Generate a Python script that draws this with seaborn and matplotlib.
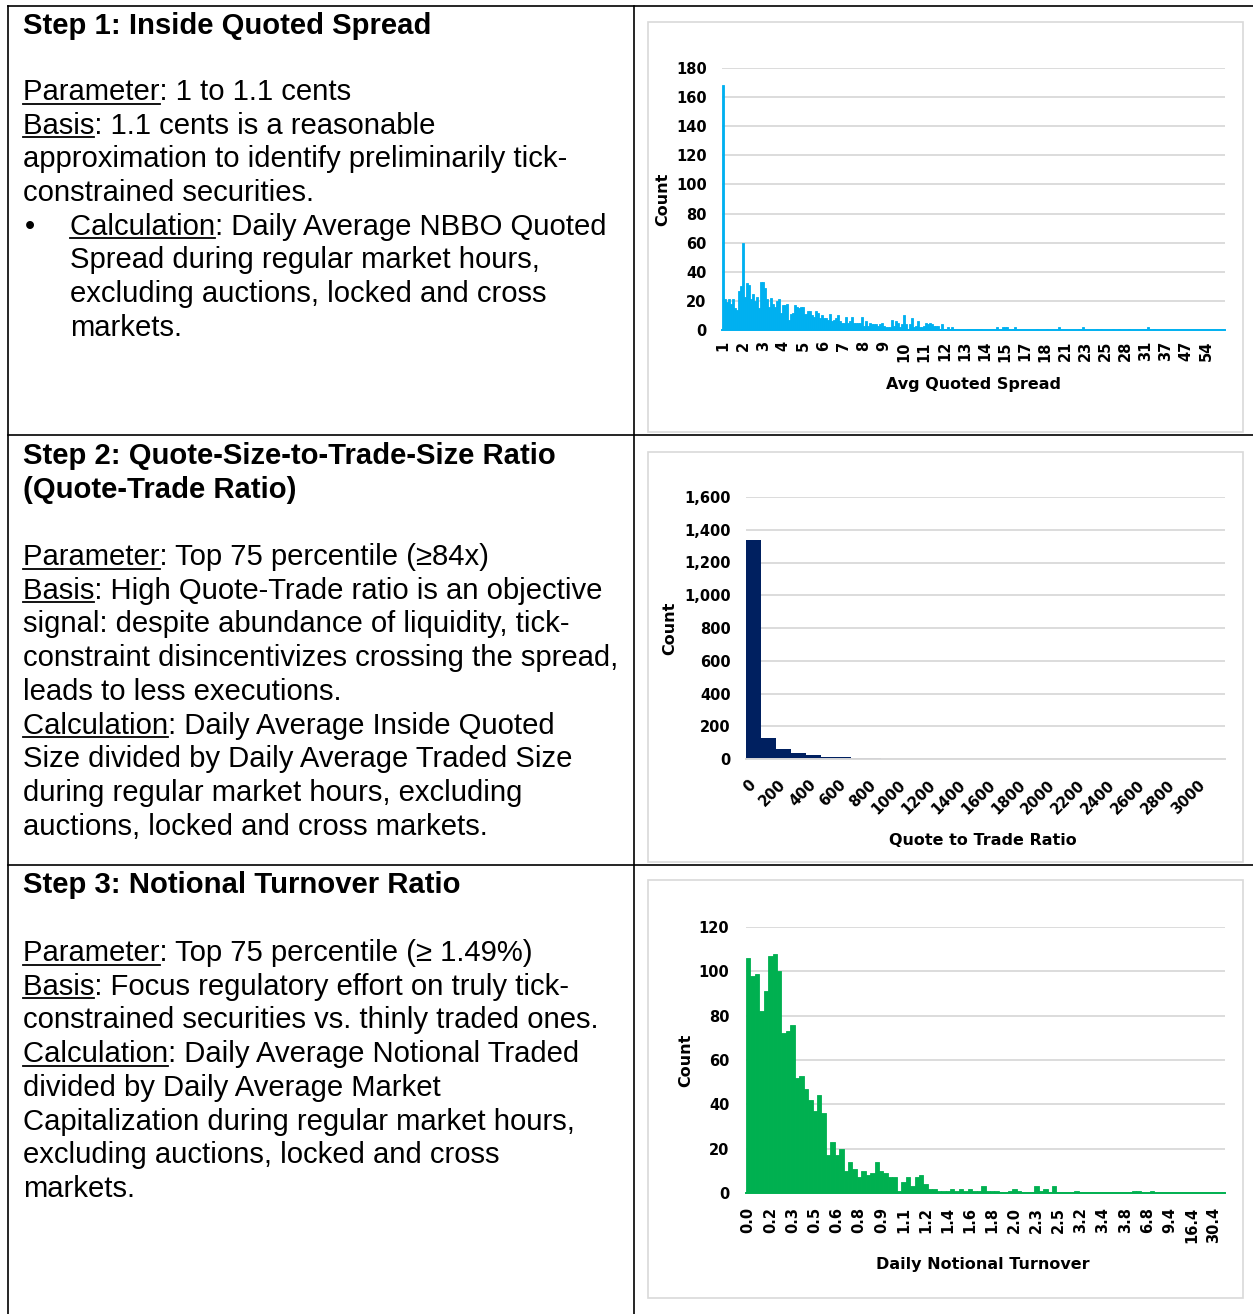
import numpy as np
import matplotlib
matplotlib.use('Agg')
import matplotlib.pyplot as plt
from matplotlib.patches import Rectangle
from matplotlib.lines import Line2D
from matplotlib.ticker import FuncFormatter
import seaborn as sns

W, H = 1253, 1314

# ---------------- data ----------------
# Step 1: histogram of average quoted spread (categorical bins, 10 bins per label)
spread_counts = [
    168, 21, 19, 21, 18, 21, 15, 14, 27, 30,
    60, 23, 32, 31, 21, 25, 20, 23, 15, 33,
    33, 29, 21, 16, 22, 18, 16, 20, 21, 12,
    17, 17, 18, 7, 11, 12, 17, 16, 15, 16,
    16, 11, 13, 13, 10, 9, 13, 12, 8, 10,
    8, 8, 7, 11, 6, 7, 8, 10, 6, 5,
    5, 9, 5, 6, 9, 5, 5, 5, 5, 9,
    3, 6, 3, 5, 4, 4, 4, 3, 4, 5,
    3, 2, 2, 2, 7, 3, 6, 5, 2, 4,
    10, 4, 1, 4, 8, 2, 3, 6, 2, 2,
    3, 5, 4, 5, 4, 3, 3, 3, 1, 4,
    1, 1, 2, 1, 2, 1, 1, 1, 0, 0,
    0, 0, 1, 1, 1, 1, 1, 1, 1, 0,
    0, 0, 0, 1, 1, 0, 2, 0, 0, 2,
    2, 2, 0, 0, 1, 2, 0, 0, 0, 0,
    0, 0, 0, 0, 0, 0, 1, 0, 0, 0,
    0, 1, 0, 0, 0, 0, 0, 2, 0, 0,
    0, 0, 0, 0, 0, 0, 0, 1, 1, 2,
    0, 0, 0, 0, 0, 0, 1, 0, 1, 0,
    0, 0, 0, 0, 1, 0, 0, 1, 0, 0,
    0, 0, 1, 0, 0, 0, 0, 0, 1, 1,
    1, 2, 0, 0, 1, 0, 0, 0, 0, 0,
    0, 0, 0, 0, 0, 0, 0, 0, 0, 0,
    0, 0, 0, 0, 0, 0, 0, 0, 0, 0,
    0, 0, 0, 0, 0, 0, 0, 0, 0, 0,
]
spread_tick_labels = ['1', '2', '3', '4', '5', '6', '7', '8', '9', '10', '11', '12', '13',
                      '14', '15', '17', '18', '21', '23', '25', '28', '31', '37', '47', '54']
spread_label_every = 10

# Step 2: histogram of quote-to-trade ratio (bins of 100)
qt_counts = [1340, 126, 61, 35, 24, 14, 12, 6, 6, 2, 1, 1, 1, 0, 1, 0,
             0, 0, 0, 0, 0, 0, 0, 0, 0, 0, 0, 0, 0, 0, 1, 0]
qt_bin_width = 100
qt_tick_labels = ['0', '200', '400', '600', '800', '1000', '1200', '1400', '1600',
                  '1800', '2000', '2200', '2400', '2600', '2800', '3000']

# Step 3: histogram of daily notional turnover (categorical bins, 5 bins per label)
turnover_counts = [
    106, 98, 99, 82, 91, 107, 108, 100, 72, 73,
    76, 52, 53, 47, 42, 37, 44, 36, 17, 23,
    17, 20, 10, 14, 11, 7, 10, 8, 9, 14,
    10, 9, 7, 7, 1, 5, 7, 3, 7, 8,
    4, 2, 2, 1, 1, 1, 2, 1, 2, 1,
    2, 1, 1, 3, 1, 1, 1, 0, 0, 1,
    2, 1, 0, 0, 0, 3, 1, 2, 0, 3,
    0, 0, 0, 0, 1, 0, 0, 0, 0, 0,
    0, 0, 0, 0, 0, 0, 0, 1, 1, 0,
    0, 1, 0, 0, 0, 0, 0, 0, 0, 0,
    0, 0, 0, 0, 0, 0, 0, 0,
]
turnover_tick_labels = ['0.0', '0.2', '0.3', '0.5', '0.6', '0.8', '0.9', '1.1', '1.2', '1.4', '1.6',
                        '1.8', '2.0', '2.3', '2.5', '3.2', '3.4', '3.8', '6.8', '9.4', '16.4', '30.4']
turnover_label_every = 5

# left column text: (underlined word, rest of line, indent)
step_titles = [
    ['Step 1: Inside Quoted Spread'],
    ['Step 2: Quote-Size-to-Trade-Size Ratio', '(Quote-Trade Ratio)'],
    ['Step 3: Notional Turnover Ratio'],
]
step_bodies = [
    [('Parameter', ': 1 to 1.1 cents', 0),
     ('Basis', ': 1.1 cents is a reasonable', 0),
     ('', 'approximation to identify preliminarily tick-', 0),
     ('', 'constrained securities.', 0),
     ('Calculation', ': Daily Average NBBO Quoted', 1),
     ('', 'Spread during regular market hours,', 1),
     ('', 'excluding auctions, locked and cross', 1),
     ('', 'markets.', 1)],
    [('Parameter', ': Top 75 percentile (≥84x)', 0),
     ('Basis', ': High Quote-Trade ratio is an objective', 0),
     ('', 'signal: despite abundance of liquidity, tick-', 0),
     ('', 'constraint disincentivizes crossing the spread,', 0),
     ('', 'leads to less executions.', 0),
     ('Calculation', ': Daily Average Inside Quoted', 0),
     ('', 'Size divided by Daily Average Traded Size', 0),
     ('', 'during regular market hours, excluding', 0),
     ('', 'auctions, locked and cross markets.', 0)],
    [('Parameter', ': Top 75 percentile (≥ 1.49%)', 0),
     ('Basis', ': Focus regulatory effort on truly tick-', 0),
     ('', 'constrained securities vs. thinly traded ones.', 0),
     ('Calculation', ': Daily Average Notional Traded', 0),
     ('', 'divided by Daily Average Market', 0),
     ('', 'Capitalization during regular market hours,', 0),
     ('', 'excluding auctions, locked and cross', 0),
     ('', 'markets.', 0)],
]

# ---------------- figure ----------------
plt.rcParams['font.family'] = ['DejaVu Sans']
plt.rcParams['font.weight'] = 'bold'
fig = plt.figure(figsize=(W / 100, H / 100), dpi=100)
fig.patch.set_facecolor('white')

GRID = '#d9d9d9'
TEXT_FONT = ['Liberation Sans', 'DejaVu Sans']
TEXT_SIZE = 21.1


def fx(x):
    return x / W


def fy(y):
    return 1 - y / H


def px_axes(x0, y0, x1, y1):
    return fig.add_axes([fx(x0), fy(y1), (x1 - x0) / W, (y1 - y0) / H])


def style(ax, base_color=GRID):
    for s in ['left', 'right', 'top']:
        ax.spines[s].set_visible(False)
    ax.spines['bottom'].set_color(base_color)
    ax.spines['bottom'].set_linewidth(1.4)
    ax.yaxis.grid(True, color=GRID, linewidth=1.3)
    ax.xaxis.grid(False)
    ax.set_axisbelow(True)
    ax.patch.set_alpha(0)
    ax.tick_params(length=0, labelsize=10.5, colors='black')


def place_labels(ax, x0, y0, x1, y1, ylab_x, xlab_x, xlab_y, xlabel):
    w, h = x1 - x0, y1 - y0
    ax.set_xlabel(xlabel, fontsize=11.5, fontweight='bold')
    ax.set_ylabel('Count', fontsize=11.5, fontweight='bold')
    ax.xaxis.set_label_coords((xlab_x - x0) / w, (y1 - xlab_y) / h)
    ax.xaxis.label.set_va('center')
    ax.yaxis.set_label_coords((ylab_x - x0) / w, 0.5)
    ax.yaxis.label.set_va('center')


# chart boxes
for (bx0, by0, bx1, by1) in [(648, 22, 1243, 432), (648, 452, 1243, 862), (648, 880, 1243, 1298)]:
    fig.patches.append(Rectangle((fx(bx0), fy(by1)), (bx1 - bx0) / W, (by1 - by0) / H,
                                 transform=fig.transFigure, facecolor='none',
                                 edgecolor=GRID, linewidth=1.2, zorder=-1))

# ---- chart 1 ----
c1 = (722, 68, 1225, 330)
ax1 = px_axes(*c1)
sns.histplot(x=np.arange(len(spread_counts)), weights=spread_counts, discrete=True, shrink=1,
             color='#00B0F0', alpha=1, edgecolor='#00B0F0', linewidth=0.6, ax=ax1)
style(ax1, '#00B0F0')
ax1.set_xlim(-0.5, len(spread_counts) - 0.5)
ax1.set_ylim(0, 180)
ax1.set_yticks(range(0, 181, 20))
ax1.set_xticks(np.arange(len(spread_tick_labels)) * spread_label_every)
ax1.set_xticklabels(spread_tick_labels, rotation=90)
ax1.tick_params(axis='y', pad=11)
ax1.tick_params(axis='x', pad=8)
place_labels(ax1, *c1, ylab_x=663, xlab_x=973, xlab_y=384, xlabel='Avg Quoted Spread')

# ---- chart 2 ----
c2 = (746, 497, 1225, 759)
ax2 = px_axes(*c2)
qt_lo = 0
qt_hi = len(qt_counts) * qt_bin_width
qt_centers = qt_lo + qt_bin_width * (np.arange(len(qt_counts)) + 0.5)
sns.histplot(x=qt_centers, weights=qt_counts, binwidth=qt_bin_width, binrange=(qt_lo, qt_hi),
             color='#002060', alpha=1, linewidth=0, ax=ax2)
style(ax2)
ax2.set_xlim(qt_lo, qt_hi)
ax2.set_ylim(0, 1600)
ax2.set_yticks(range(0, 1601, 200))
ax2.yaxis.set_major_formatter(FuncFormatter(lambda v, p: f'{int(v):,}'))
ax2.set_xticks(np.arange(len(qt_tick_labels)) * 2 * qt_bin_width + qt_bin_width / 2)
ax2.set_xticklabels(qt_tick_labels, rotation=45, ha='right', va='center', rotation_mode='anchor')
ax2.tick_params(axis='y', pad=11)
ax2.tick_params(axis='x', pad=17)
place_labels(ax2, *c2, ylab_x=670, xlab_x=983, xlab_y=840, xlabel='Quote to Trade Ratio')

# ---- chart 3 ----
c3 = (746, 927, 1225, 1193)
ax3 = px_axes(*c3)
sns.histplot(x=np.arange(len(turnover_counts)), weights=turnover_counts, discrete=True, shrink=1,
             color='#00B050', alpha=1, edgecolor='#00B050', linewidth=0.6, ax=ax3)
style(ax3, '#00B050')
ax3.set_xlim(-0.5, len(turnover_counts) - 0.5)
ax3.set_ylim(0, 120)
ax3.set_yticks(range(0, 121, 20))
ax3.set_xticks(np.arange(len(turnover_tick_labels)) * turnover_label_every)
ax3.set_xticklabels(turnover_tick_labels, rotation=90)
ax3.tick_params(axis='y', pad=12)
ax3.tick_params(axis='x', pad=10)
place_labels(ax3, *c3, ylab_x=686, xlab_x=983, xlab_y=1265, xlabel='Daily Notional Turnover')

# ---- table lines ----
line_kw = dict(color='black', linewidth=1.2, transform=fig.transFigure)
for (xa, ya, xb, yb) in [(8, 6, 1253, 6), (8, 435, 1253, 435), (8, 865, 1253, 865),
                         (8, 6, 8, 1314), (634, 6, 634, 1314)]:
    fig.lines.append(Line2D([fx(xa), fx(xb)], [fy(ya), fy(yb)], **line_kw))

# ---- left column text ----
renderer = fig.canvas.get_renderer()
title_baselines = [[34], [464, 498], [893]]
body_starts = [100, 565, 961]
line_step = 33.7
text_x = 23
indent_x = 70

for titles, tbase, body, bstart in zip(step_titles, title_baselines, step_bodies, body_starts):
    for t, yb in zip(titles, tbase):
        fig.text(fx(text_x), fy(yb), t, family=TEXT_FONT, fontsize=TEXT_SIZE,
                 fontweight='bold', va='baseline', ha='left')
    for i, (under, rest, indent) in enumerate(body):
        yb = bstart + i * line_step
        x0 = indent_x if indent else text_x
        if indent and under:
            fig.text(fx(25), fy(yb), '•', family=TEXT_FONT, fontsize=TEXT_SIZE,
                     fontweight='normal', va='baseline', ha='left')
        fig.text(fx(x0), fy(yb), under + rest, family=TEXT_FONT, fontsize=TEXT_SIZE,
                 fontweight='normal', va='baseline', ha='left')
        if under:
            probe = fig.text(0, 0, under, family=TEXT_FONT, fontsize=TEXT_SIZE,
                             fontweight='normal')
            wpx = probe.get_window_extent(renderer).width
            probe.remove()
            fig.lines.append(Line2D([fx(x0), fx(x0 + wpx)], [fy(yb + 3.5), fy(yb + 3.5)],
                                    color='black', linewidth=1.3, transform=fig.transFigure))

fig.savefig('out.png', dpi=100)
